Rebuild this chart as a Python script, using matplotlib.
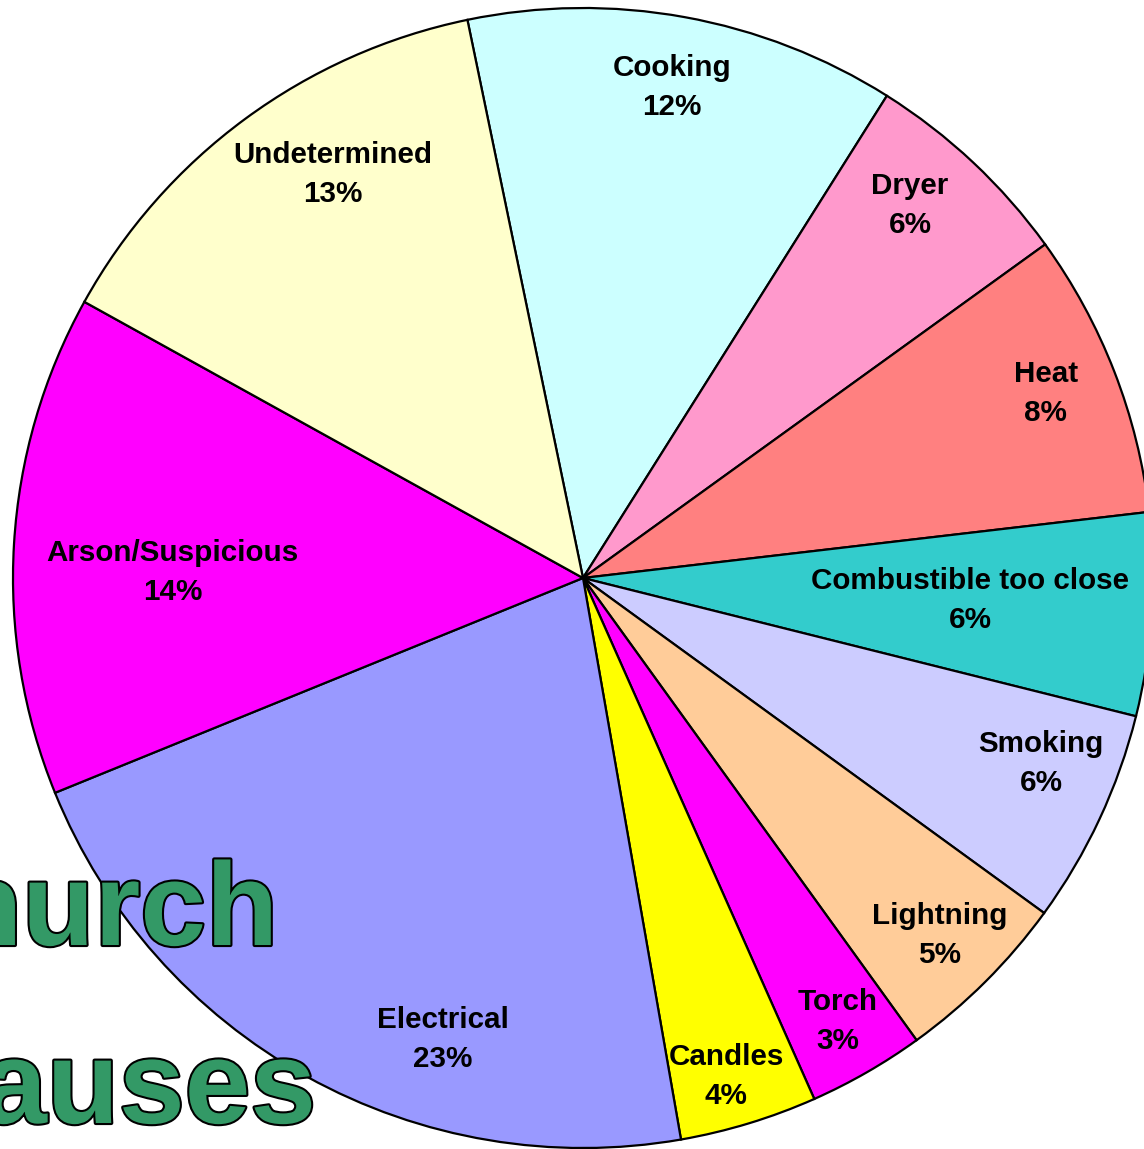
import numpy as np
import matplotlib.pyplot as plt
import matplotlib.patheffects as pe

plt.rcParams['font.family'] = ['Liberation Sans', 'DejaVu Sans']

causes = ["Cooking", "Dryer", "Heat", "Combustible too close", "Smoking",
          "Lightning", "Torch", "Candles", "Electrical", "Arson/Suspicious",
          "Undetermined"]
shares = [12.2, 6.1, 8.1, 5.75, 6.1, 5.05, 3.3, 3.9, 21.6, 14.2, 13.7]
pct_labels = ["12%", "6%", "8%", "6%", "6%", "5%", "3%", "4%", "23%", "14%", "13%"]
colors = ["#CCFFFF", "#FF99CC", "#FF8080", "#33CCCC", "#CCCCFF", "#FFCC99",
          "#FF00FF", "#FFFF00", "#9999FF", "#FF00FF", "#FFFFCC"]
# label placement: radius fraction and angle shift from the wedge middle
label_r = [0.875, 0.869, 0.874, 0.68, 0.867, 0.886, 0.898, 0.909, 0.847, 0.72, 0.833]
label_shift = [0, 1.9, 0.5, 0.3, 3.0, 0, 0, -0.9, 12.1, 2.6, -4.5]

W, H = 1144, 1149
cx, cy, R = 583, 578, 570

fig = plt.figure(figsize=(W / 100, H / 100), dpi=100)
ax = fig.add_axes([0, 0, 1, 1])
wedges, _ = ax.pie(shares, colors=colors, startangle=101.7, counterclock=False,
                   radius=1.0, wedgeprops=dict(edgecolor="black", linewidth=1.6))
ax.set_aspect("auto")
ax.set_xlim(-cx / R, (W - cx) / R)
ax.set_ylim(-(H - cy) / R, cy / R)
ax.axis("off")

for w, name, pct, r, d in zip(wedges, causes, pct_labels, label_r, label_shift):
    mid = np.deg2rad((w.theta1 + w.theta2) / 2 + d)
    ax.text(r * np.cos(mid), r * np.sin(mid), f"{name}\n{pct}", ha="center",
            va="center", fontsize=21.3, fontweight="bold", linespacing=1.5)

outline = [pe.withStroke(linewidth=3, foreground="black")]
for word, xr, yb in [("Church", 278, 945), ("Causes", 316, 1123)]:
    fig.text(xr / W, 1 - yb / H, word, ha="right", va="baseline", fontsize=85,
             fontweight="bold", color="#339966", path_effects=outline)

fig.savefig("out.png", dpi=100)
